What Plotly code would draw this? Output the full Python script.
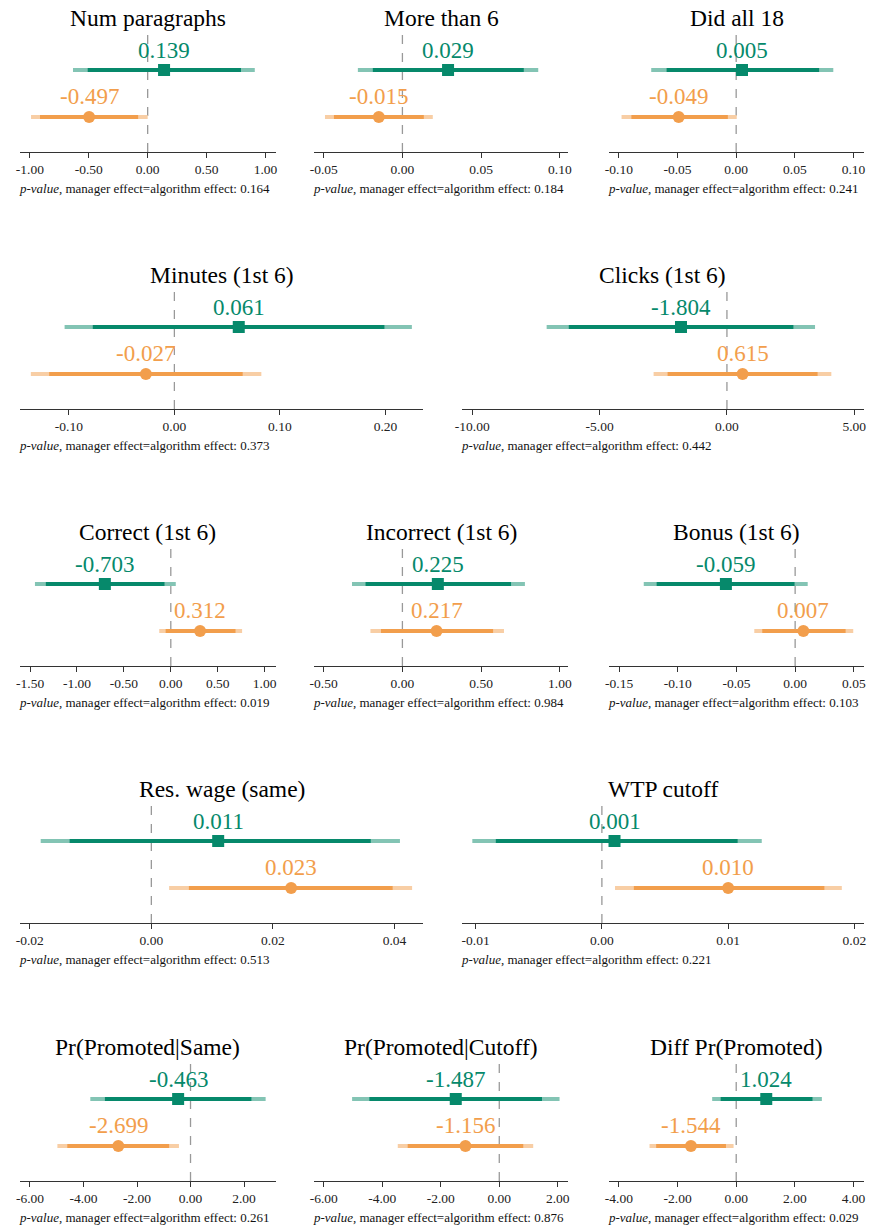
import plotly.graph_objects as go

# ---- data -------------------------------------------------------------
titles = ["Num paragraphs", "More than 6", "Did all 18",
          "Minutes (1st 6)", "Clicks (1st 6)",
          "Correct (1st 6)", "Incorrect (1st 6)", "Bonus (1st 6)",
          "Res. wage (same)", "WTP cutoff",
          "Pr(Promoted|Same)", "Pr(Promoted|Cutoff)", "Diff Pr(Promoted)"]

manager_est = [0.139, 0.029, 0.005, 0.061, -1.804, -0.703, 0.225, -0.059, 0.011, 0.001, -0.463, -1.487, 1.024]
manager_lo95 = [-0.634, -0.0283, -0.0724, -0.104, -7.08, -1.448, -0.320, -0.129, -0.0182, -0.01026, -3.745, -5.03, -0.82]
manager_lo90 = [-0.509, -0.0188, -0.0593, -0.0773, -6.21, -1.332, -0.234, -0.118, -0.01344, -0.0084, -3.20, -4.44, -0.53]
manager_hi90 = [0.792, 0.0771, 0.0707, 0.199, 2.61, -0.067, 0.690, -0.0005, 0.0361, 0.01075, 2.276, 1.46, 2.60]
manager_hi95 = [0.909, 0.0863, 0.0828, 0.225, 3.46, 0.053, 0.778, 0.0107, 0.0409, 0.01266, 2.807, 2.06, 2.92]

algorithm_est = [-0.497, -0.015, -0.049, -0.027, 0.615, 0.312, 0.217, 0.007, 0.023, 0.010, -2.699, -1.156, -1.544]
algorithm_lo95 = [-0.990, -0.0492, -0.0977, -0.136, -2.88, -0.123, -0.203, -0.0348, 0.00293, 0.00104, -4.976, -3.47, -2.956]
algorithm_lo90 = [-0.914, -0.0435, -0.0893, -0.1186, -2.33, -0.055, -0.136, -0.028, 0.00618, 0.00253, -4.606, -3.13, -2.73]
algorithm_hi90 = [-0.081, 0.0136, -0.0071, 0.0647, 3.56, 0.69, 0.576, 0.043, 0.0397, 0.01762, -0.80, 0.82, -0.35]
algorithm_hi95 = [0.0, 0.0193, 0.0005, 0.0824, 4.10, 0.76, 0.645, 0.0495, 0.0429, 0.019, -0.432, 1.16, -0.09]

p_values = ["0.164", "0.184", "0.241", "0.373", "0.442", "0.019", "0.984",
            "0.103", "0.513", "0.221", "0.261", "0.876", "0.029"]

tick_labels = [
    ["-1.00", "-0.50", "0.00", "0.50", "1.00"],
    ["-0.05", "0.00", "0.05", "0.10"],
    ["-0.10", "-0.05", "0.00", "0.05", "0.10"],
    ["-0.10", "0.00", "0.10", "0.20"],
    ["-10.00", "-5.00", "0.00", "5.00"],
    ["-1.50", "-1.00", "-0.50", "0.00", "0.50", "1.00"],
    ["-0.50", "0.00", "0.50", "1.00"],
    ["-0.15", "-0.10", "-0.05", "0.00", "0.05"],
    ["-0.02", "0.00", "0.02", "0.04"],
    ["-0.01", "0.00", "0.01", "0.02"],
    ["-6.00", "-4.00", "-2.00", "0.00", "2.00"],
    ["-6.00", "-4.00", "-2.00", "0.00", "2.00"],
    ["-4.00", "-2.00", "0.00", "2.00", "4.00"],
]

x_ranges = [
    [-1.085, 1.088], [-0.0559, 0.1055], [-0.1084, 0.1090],
    [-0.1464, 0.2357], [-10.415, 5.384],
    [-1.609, 1.120], [-0.5587, 1.0546], [-0.1586, 0.0587],
    [-0.02163, 0.04472], [-0.01110, 0.02076],
    [-6.379, 3.19], [-6.318, 2.365], [-4.338, 4.358],
]

# ---- layout geometry (pixels) ----------------------------------------
W, H = 870, 1228
row_axis_y = [152, 409, 666, 923, 1181]
three_cols = [(13, 272), (311, 568), (609, 867)]
two_cols = [(13, 421), (460, 867)]
panel_rows = [0, 0, 0, 1, 1, 2, 2, 2, 3, 3, 4, 4, 4]
panel_cols = [three_cols[0], three_cols[1], three_cols[2],
              two_cols[0], two_cols[1],
              three_cols[0], three_cols[1], three_cols[2],
              two_cols[0], two_cols[1],
              three_cols[0], three_cols[1], three_cols[2]]
PANEL_H = 117

GREEN = "#06896b"
GREEN_LIGHT = "#83c4b4"
ORANGE = "#f29e4c"
ORANGE_LIGHT = "#f8cea5"
SERIF = "Liberation Serif, Times New Roman, serif"

fig = go.Figure()
annotations = []
shapes = []
layout = {}


def px_x(p):
    return p / W


def px_y(p):
    return 1 - p / H


series = [
    (1, manager_est, manager_lo95, manager_lo90, manager_hi90, manager_hi95, GREEN, GREEN_LIGHT, "square"),
    (0, algorithm_est, algorithm_lo95, algorithm_lo90, algorithm_hi90, algorithm_hi95, ORANGE, ORANGE_LIGHT, "circle"),
]

for i, title in enumerate(titles):
    n = "" if i == 0 else str(i + 1)
    xa, ya = "x" + n, "y" + n
    left, right = panel_cols[i]
    axis_y = row_axis_y[panel_rows[i]]
    top = axis_y - PANEL_H

    layout["xaxis" + n] = dict(
        domain=[px_x(left), px_x(right)], anchor=ya, range=x_ranges[i],
        tickvals=[float(t) for t in tick_labels[i]], ticktext=tick_labels[i],
        showgrid=False, zeroline=False, showline=True, linecolor="#333333",
        linewidth=1, ticks="outside", ticklen=5, tickcolor="#333333",
        tickfont=dict(family=SERIF, size=13.5, color="#222222"), fixedrange=True,
    )
    layout["yaxis" + n] = dict(
        domain=[px_y(axis_y), px_y(top)], anchor=xa, range=[-0.745, 1.745],
        visible=False, fixedrange=True,
    )

    # reference line at zero
    shapes.append(dict(type="line", xref=xa, yref=ya + " domain", x0=0, x1=0, y0=0, y1=1,
                       line=dict(color="#999999", width=1.3, dash="dash"), layer="below"))

    for row_y, est, lo95, lo90, hi90, hi95, col, col_light, sym in series:
        fig.add_trace(go.Scatter(x=[lo95[i], hi95[i]], y=[row_y, row_y], mode="lines",
                                 line=dict(color=col_light, width=4), xaxis=xa, yaxis=ya,
                                 showlegend=False, hoverinfo="skip"))
        fig.add_trace(go.Scatter(x=[lo90[i], hi90[i]], y=[row_y, row_y], mode="lines",
                                 line=dict(color=col, width=4), xaxis=xa, yaxis=ya,
                                 showlegend=False, hoverinfo="skip"))
        fig.add_trace(go.Scatter(x=[est[i]], y=[row_y], mode="markers",
                                 marker=dict(color=col, size=12, symbol=sym, line=dict(width=0)),
                                 xaxis=xa, yaxis=ya, showlegend=False))
        annotations.append(dict(x=est[i], y=row_y, xref=xa, yref=ya, text=f"{est[i]:.3f}",
                                showarrow=False, yshift=20, xanchor="center", yanchor="middle",
                                font=dict(family=SERIF, size=23, color=col)))

    annotations.append(dict(x=px_x((left + right) / 2), y=px_y(top - 17), xref="paper", yref="paper",
                            text=title, showarrow=False, xanchor="center", yanchor="middle",
                            font=dict(family=SERIF, size=23.5, color="#000000")))
    annotations.append(dict(x=px_x(left - 3), y=px_y(axis_y + 36), xref="paper", yref="paper",
                            text=f"<i>p-value</i>, manager effect=algorithm effect: {p_values[i]}",
                            showarrow=False, xanchor="left", yanchor="middle",
                            font=dict(family=SERIF, size=13, color="#111111")))

fig.update_layout(
    width=W, height=H, margin=dict(l=0, r=0, t=0, b=0),
    paper_bgcolor="white", plot_bgcolor="white",
    annotations=annotations, shapes=shapes, **layout,
)

fig.write_html("out.html")
